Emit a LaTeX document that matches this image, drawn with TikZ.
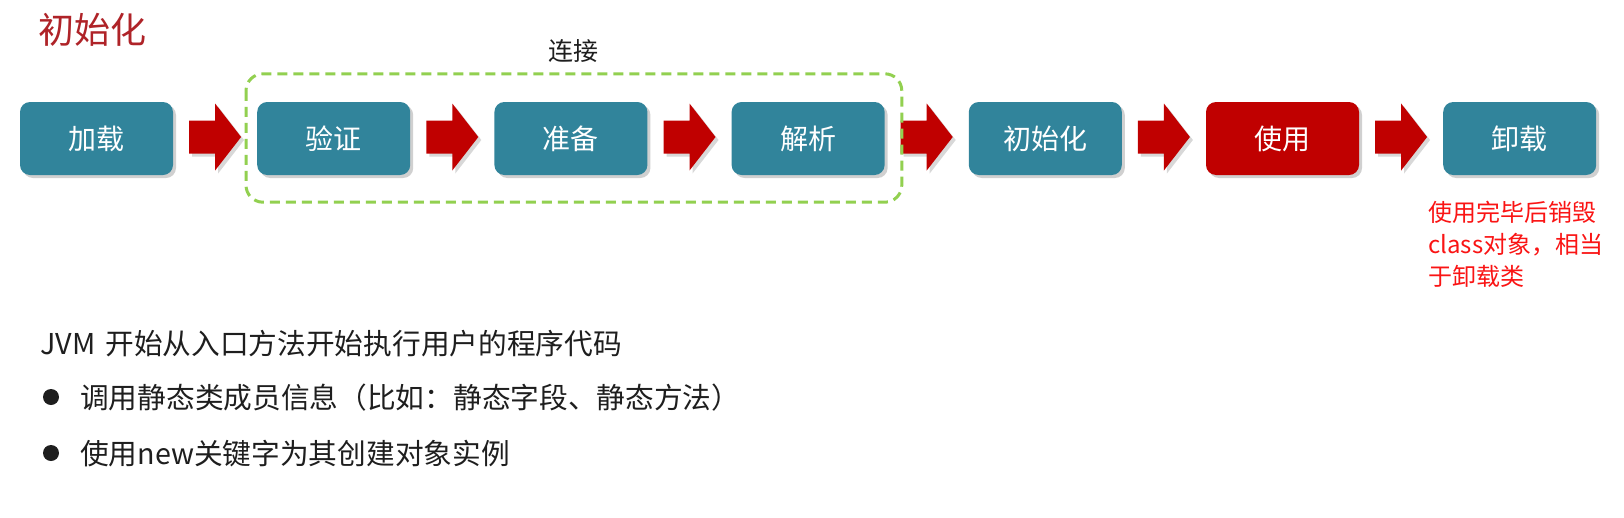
\documentclass[tikz,border=0pt]{standalone}
\usepackage{fontspec}
\setmainfont{Noto Sans CJK SC}
\usetikzlibrary{shadows,calc}
\definecolor{teal}{RGB}{49,132,155}
\definecolor{darkred}{RGB}{192,0,0}
\definecolor{titlered}{RGB}{175,35,40}
\definecolor{dashgreen}{RGB}{146,208,80}
\definecolor{notered}{RGB}{250,20,20}
\definecolor{txt}{RGB}{30,30,30}
\tikzset{
  stage/.style={rounded corners=10pt, minimum width=153pt, minimum height=73pt, inner sep=0pt,
    text=white, font=\fontsize{28pt}{32pt}\selectfont,
    drop shadow={shadow xshift=3pt, shadow yshift=-3pt, opacity=0.3, fill=black!60}},
  normalstage/.style={stage, fill=teal},
  usestage/.style={stage, fill=darkred},
  blockarrow/.style={fill=darkred,
    drop shadow={shadow xshift=3pt, shadow yshift=-3pt, opacity=0.25, fill=black!60}},
  bodytext/.style={anchor=base west, inner sep=0pt, text=txt, font=\fontsize{28.7pt}{34pt}\selectfont},
}
\begin{document}
\begin{tikzpicture}[x=1pt,y=-1pt]
\fill[white] (0,0) rectangle (1624,517);
\useasboundingbox (0,0) rectangle (1624,517);

\node[anchor=base west, inner sep=0pt, text=titlered, font=\fontsize{36pt}{40pt}\selectfont] (title) at (38,43) {初始化};

\node[normalstage] (b0) at (96.5,138.5) {加载};
\node[normalstage] (b1) at (333.7,138.5) {验证};
\node[normalstage] (b2) at (570.9,138.5) {准备};
\node[normalstage] (b3) at (808.1,138.5) {解析};
\node[normalstage] (b4) at (1045.3,138.5) {初始化};
\node[usestage] (b5) at (1282.5,138.5) {使用};
\node[normalstage] (b6) at (1519.7,138.5) {卸载};

\foreach \i/\j in {0/1,1/2,2/3,3/4,4/5,5/6}{
  \path (b\i.east) -- (b\j.west) coordinate[pos=0.5] (m\i);
  \fill[blockarrow] ($(m\i)+(-26,-18)$) -- ++(26,0) -- ++(0,-17) -- ++(26,33.5)
     -- ++(-26,33.5) -- ++(0,-17) -- ++(-26,0) -- cycle;
}

\draw[dashgreen, line width=3pt, dash pattern=on 10pt off 6pt, rounded corners=17pt]
  ($(b1.north west)+(-11,-28)$) coordinate (dtl) rectangle ($(b3.south east)+(17,27)$) coordinate (dbr);
\node[inner sep=0pt, text=txt, font=\fontsize{25pt}{28pt}\selectfont, anchor=base] (conn)
  at ($(dtl)!0.5!(dbr |- dtl)+(0,-13)$) {连接};

\node[anchor=base west, inner sep=0pt, text=notered, align=left,
  font=\fontsize{24pt}{32pt}\selectfont] (note) at (1428,285)
  {使用完毕后销毁\\class对象，相当\\于卸载类};

\node[bodytext] (l1) at (40,354) {JVM\hspace{10pt}开始从入口方法开始执行用户的程序代码};
\fill[txt] (51,397) circle (8pt) coordinate (bu1);
\node[bodytext] (l2) at (80,408) {调用静态类成员信息（比如：静态字段、静态方法）};
\fill[txt] (51,453) circle (8pt) coordinate (bu2);
\node[bodytext] (l3) at (80,464) {使用new关键字为其创建对象实例};
\end{tikzpicture}
\end{document}
